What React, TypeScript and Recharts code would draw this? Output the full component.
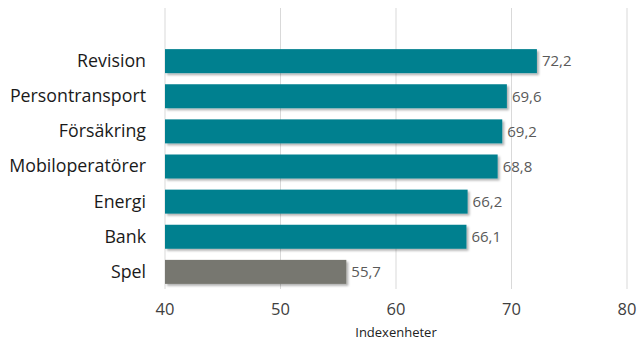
import { BarChart, Bar, XAxis, YAxis, CartesianGrid, Cell, LabelList } from 'recharts';

// top slot is empty (space above first bar in the original)
const categories = ['', 'Revision', 'Persontransport', 'Försäkring', 'Mobiloperatörer', 'Energi', 'Bank', 'Spel'];
const values = [null, 72.2, 69.6, 69.2, 68.8, 66.2, 66.1, 55.7];
const barColors = ['#00808f', '#00808f', '#00808f', '#00808f', '#00808f', '#00808f', '#00808f', '#77776f'];
const xTicks = [40, 50, 60, 70, 80];

const data = categories.map((name, i) => ({ name, value: values[i] }));

const FONT = '"Open Sans", "Noto Sans", sans-serif';

function ShadowBar(props: any) {
  const { x, y, width, height, fill } = props;
  if (!width || width <= 0) return null;
  return (
    <g>
      <defs>
        <filter id="barShadow" x="-5%" y="-20%" width="115%" height="160%">
          <feDropShadow dx="2" dy="2" stdDeviation="1" floodColor="#000" floodOpacity="0.3" />
        </filter>
      </defs>
      <rect x={x} y={y} width={width} height={height} fill={fill} filter="url(#barShadow)" />
    </g>
  );
}

const fmt = (v: any) => (v == null ? '' : String(v).replace('.', ','));

export default function App() {
  return (
    <div style={{ position: 'absolute', left: 0, top: 0, background: '#fff', fontFamily: FONT }}>
      <BarChart
        width={638}
        height={340}
        data={data}
        layout="vertical"
        margin={{ top: 8, right: 11, bottom: 0, left: 0 }}
        barCategoryGap={11}
      >
        <CartesianGrid horizontal={false} stroke="#d9d9d9" />
        <XAxis
          type="number"
          domain={[40, 80]}
          ticks={xTicks}
          axisLine={false}
          tickLine={false}
          tickSize={0}
          tickMargin={14}
          height={51}
          tick={{ fill: '#404040', fontSize: 16.5, fontFamily: FONT }}
          label={{ value: 'Indexenheter', position: 'insideBottom', offset: 3, fill: '#222', fontSize: 13, fontFamily: FONT }}
        />
        <YAxis
          type="category"
          dataKey="name"
          width={165}
          axisLine={false}
          tickLine={false}
          tickSize={0}
          tickMargin={19}
          interval={0}
          tick={{ fill: '#1a1a1a', fontSize: 17.8, fontFamily: FONT }}
        />
        <Bar dataKey="value" barSize={24} isAnimationActive={false} shape={<ShadowBar />}>
          {data.map((d, i) => (
            <Cell key={i} fill={barColors[i]} />
          ))}
          <LabelList
            dataKey="value"
            position="right"
            offset={5}
            formatter={fmt}
            style={{ fill: '#595959', fontSize: 15, fontFamily: FONT }}
          />
        </Bar>
      </BarChart>
    </div>
  );
}
